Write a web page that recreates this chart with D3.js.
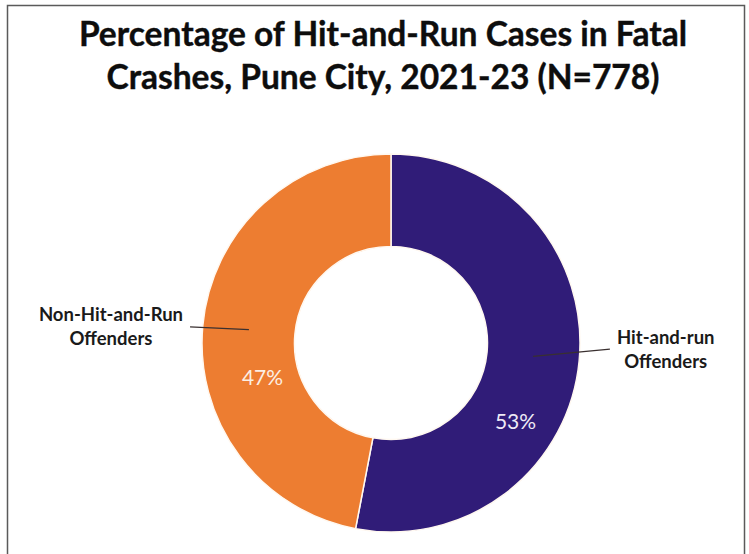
<!DOCTYPE html>
<html>
<head>
<meta charset="utf-8">
<script src="https://cdn.jsdelivr.net/npm/d3@7"></script>
<style>
  html, body { margin: 0; padding: 0; background: #fff; }
  svg { display: block; }
</style>
</head>
<body>
<div id="chart"></div>
<script>
(function () {
  'use strict';

  // data
  const titleLines = ['Percentage of Hit-and-Run Cases in Fatal', 'Crashes, Pune City, 2021-23 (N=778)'];
  const categories = ['Hit-and-run Offenders', 'Non-Hit-and-Run Offenders'];
  const categoryLines = [['Hit-and-run', 'Offenders'], ['Non-Hit-and-Run', 'Offenders']];
  const values = [53, 47];
  const valueLabels = ['53%', '47%'];

  const W = 749, H = 554;
  const cx = 391, cy = 343, rOuter = 189, rInner = 96.5;
  const font = 'Lato, "Open Sans", sans-serif';

  const color = d3.scaleOrdinal().domain(categories).range(['#301c78', '#ed7d31']);
  const textColor = d3.scaleOrdinal().domain(categories).range(['#eeeaf6', '#fcefe4']);

  // where the labels sit inside / outside each slice
  const pctPlace = [{ t: 0.64, r: 147 }, { t: 0.38, r: 133 }];
  const callout = [{ r: 219, turn: -3.8, side: 1 }, { r: 201.6, turn: -0.8, side: -1 }];

  const svg = d3.select('#chart').append('svg')
    .attr('width', W).attr('height', H);

  svg.append('rect')
    .attr('x', 7.5).attr('y', 5.5)
    .attr('width', 737).attr('height', 620)
    .attr('fill', 'none').attr('stroke', '#5a5a5a').attr('stroke-width', 1.5);

  svg.append('g').selectAll('text')
    .data(titleLines)
    .enter().append('text')
    .attr('x', 383)
    .attr('y', (d, i) => 46 + i * 43)
    .attr('text-anchor', 'middle')
    .attr('font-family', font).attr('font-weight', 700).attr('font-size', 33.5)
    .attr('fill', '#0d0d0d')
    .attr('stroke', '#0d0d0d').attr('stroke-width', 0.4)
    .text((d) => d);

  const pie = d3.pie().sort(null).value((d) => d);
  const slices = pie(values);
  const arc = d3.arc().innerRadius(rInner).outerRadius(rOuter);

  const g = svg.append('g').attr('transform', `translate(${cx},${cy})`);

  g.selectAll('.slice')
    .data(slices)
    .enter().append('path')
    .attr('class', 'slice')
    .attr('d', arc)
    .attr('fill', (d, i) => color(categories[i]))
    .attr('stroke', '#fff8f0').attr('stroke-width', 1.5);

  const polar = (r, a) => [r * Math.sin(a), -r * Math.cos(a)];

  g.selectAll('.pct')
    .data(slices)
    .enter().append('text')
    .attr('class', 'pct')
    .attr('transform', (d, i) => {
      const a = d.startAngle + pctPlace[i].t * (d.endAngle - d.startAngle);
      const p = polar(pctPlace[i].r, a);
      return `translate(${p[0]},${p[1]})`;
    })
    .attr('dy', '0.36em')
    .attr('text-anchor', 'middle')
    .attr('font-family', font).attr('font-size', 21)
    .attr('fill', (d, i) => textColor(categories[i]))
    .text((d, i) => valueLabels[i]);

  slices.forEach((d, i) => {
    const c = arc.centroid(d);
    const mid = (d.startAngle + d.endAngle) / 2 + callout[i].turn * Math.PI / 180;
    const e = polar(callout[i].r, mid);

    g.append('line')
      .attr('x1', c[0]).attr('y1', c[1])
      .attr('x2', e[0]).attr('y2', e[1])
      .attr('stroke', '#3a3030').attr('stroke-width', 1.2);

    const lbl = g.append('text')
      .attr('font-family', font).attr('font-weight', 700).attr('font-size', 18.5)
      .attr('fill', '#1a1a1a')
      .attr('text-anchor', 'middle');
    categoryLines[i].forEach((s, j) => {
      lbl.append('tspan').attr('x', 0).attr('y', e[1] - 5.5 + j * 24).text(s);
    });
    const half = lbl.node().getBBox().width / 2;
    lbl.attr('transform', `translate(${e[0] + callout[i].side * (half + 7)},0)`);
  });
})();
</script>
</body>
</html>
